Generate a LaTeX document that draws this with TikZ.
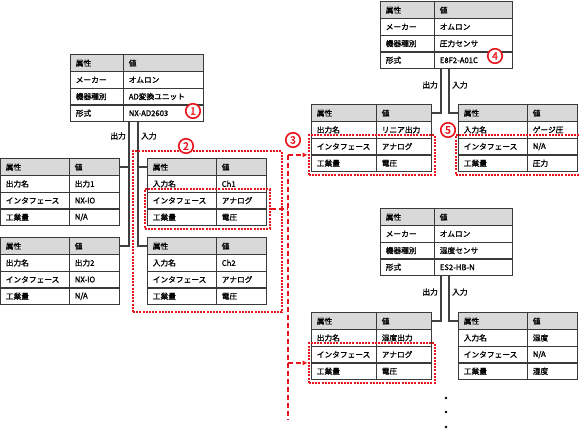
\documentclass[tikz,border=0pt]{standalone}
\usepackage{fontspec}
\setmainfont{Noto Sans CJK JP}
\newfontfamily\jfont{Noto Sans CJK JP}[FakeBold=1.4]
\usetikzlibrary{matrix,fit,calc,arrows.meta}
\definecolor{tline}{HTML}{3A3A3A}
\definecolor{hdr}{HTML}{D9D9D9}
\definecolor{conncol}{HTML}{404040}
\definecolor{rmark}{HTML}{E8141C}
\tikzset{
  tbl/.style 2 args={matrix of nodes, inner sep=0pt, column sep=-1.2pt, row sep=-1.2pt, anchor=north west,
    nodes={draw=tline, line width=1.2pt, minimum height=16.7pt, inner xsep=5pt, inner ysep=0pt,
      align=left, anchor=center, font=\jfont\fontsize{7.7}{9}\selectfont},
    column 1/.style={nodes={text width=#1}},
    column 2/.style={nodes={text width=#2}},
    row 1/.style={nodes={fill=hdr}}},
  conn/.style={draw=conncol, line width=1.7pt},
  lbl/.style={font=\jfont\fontsize{7.7}{9}\selectfont, inner sep=0pt},
  rdot/.style={draw=rmark, line width=2pt, dash pattern=on 2pt off 1.2pt, inner sep=2.5pt},
  rdash/.style={draw=rmark, line width=1.8pt, dash pattern=on 5pt off 3pt},
  rarrow/.style={rdash, -{Latex[length=5pt,width=5pt]}},
  circnum/.style={circle, draw=rmark, fill=white, line width=1.6pt, minimum size=14.5pt, inner sep=0pt,
    text=rmark, font=\jfont\fontsize{10.5}{10.5}\selectfont},
  dotmark/.style={circle, fill=black, minimum size=2.6pt, inner sep=0pt}
}
\begin{document}
\begin{tikzpicture}[x=1pt,y=-1pt]
\useasboundingbox (0,0) rectangle (580,442);
% top-left unit
\matrix (A) [tbl={43pt}{70pt}] at (70,54) {
  属性 & 値 \\ メーカー & オムロン \\ 機器種別 & AD変換ユニット \\ 形式 & NX-AD2603 \\ };
\matrix (O1) [tbl={59pt}{40pt}] at (0,158) {
  属性 & 値 \\ 出力名 & 出力1 \\ インタフェース & NX-IO \\ 工業量 & N/A \\ };
\matrix (O2) [tbl={59pt}{40pt}] at (0,237) {
  属性 & 値 \\ 出力名 & 出力2 \\ インタフェース & NX-IO \\ 工業量 & N/A \\ };
\matrix (I1) [tbl={59pt}{40pt}] at (147,158) {
  属性 & 値 \\ 入力名 & Ch1 \\ インタフェース & アナログ \\ 工業量 & 電圧 \\ };
\matrix (I2) [tbl={59pt}{40pt}] at (147,237) {
  属性 & 値 \\ 入力名 & Ch2 \\ インタフェース & アナログ \\ 工業量 & 電圧 \\ };
% pressure sensor
\matrix (B) [tbl={44pt}{68pt}] at (380,1) {
  属性 & 値 \\ メーカー & オムロン \\ 機器種別 & 圧力センサ \\ 形式 & E8F2-A01C \\ };
\matrix (C) [tbl={55pt}{45pt}] at (311,104) {
  属性 & 値 \\ 出力名 & リニア出力 \\ インタフェース & アナログ \\ 工業量 & 電圧 \\ };
\matrix (D) [tbl={59pt}{40pt}] at (458,104) {
  属性 & 値 \\ 入力名 & ゲージ圧 \\ インタフェース & N/A \\ 工業量 & 圧力 \\ };
% humidity sensor
\matrix (E) [tbl={44pt}{68pt}] at (380,208) {
  属性 & 値 \\ メーカー & オムロン \\ 機器種別 & 湿度センサ \\ 形式 & ES2-HB-N \\ };
\matrix (F) [tbl={55pt}{45pt}] at (311,312) {
  属性 & 値 \\ 出力名 & 湿度出力 \\ インタフェース & アナログ \\ 工業量 & 電圧 \\ };
\matrix (G) [tbl={59pt}{40pt}] at (458,312) {
  属性 & 値 \\ 入力名 & 湿度 \\ インタフェース & N/A \\ 工業量 & 湿度 \\ };
% connectors
\coordinate (ao) at ($(A.south west)+(59,0)$);
\coordinate (ai) at ($(A.south west)+(68,0)$);
\draw[conn] (ao) |- (O1-1-2.east);
\draw[conn] (ao) |- (O2-1-2.east);
\draw[conn] (ai) |- (I1-1-1.west);
\draw[conn] (ai) |- (I2-1-1.west);
\node[lbl, anchor=east] (ao-l) at (126,136) {出力};
\node[lbl, anchor=west] (ai-l) at (141,136) {入力};
\coordinate (bo) at ($(B.south west)+(61,0)$);
\coordinate (bi) at ($(B.south west)+(69,0)$);
\draw[conn] (bo) |- (C-1-2.east);
\draw[conn] (bi) |- (D-1-1.west);
\node[lbl, anchor=east] (bo-l) at (438,85) {出力};
\node[lbl, anchor=west] (bi-l) at (452,85) {入力};
\coordinate (eo) at ($(E.south west)+(61,0)$);
\coordinate (ei) at ($(E.south west)+(69,0)$);
\draw[conn] (eo) |- (F-1-2.east);
\draw[conn] (ei) |- (G-1-1.west);
\node[lbl, anchor=east] (eo-l) at (438,292) {出力};
\node[lbl, anchor=west] (ei-l) at (452,292) {入力};
% red marks
\node[rdot, fit=(I1)(I2), inner xsep=14pt, inner ysep=7pt] (box2) {};
\node[rdot, fit=(I1-3-1)(I1-4-2)] (f1) {};
\node[rdot, fit=(C-3-1)(C-4-2)] (fC) {};
\node[rdot, fit=(D-3-1)(D-4-2)] (fD) {};
\node[rdot, fit=(F-3-1)(F-4-2)] (fF) {};
\coordinate (spx) at (288,0);
\coordinate (spb) at (288,420);
\draw[rdash] (f1.east) -- (f1.east -| spx);
\draw[rdash] (fC.west -| spx) -- (spb);
\draw[rarrow] (fC.west -| spx) -- (fC.west);
\draw[rarrow] (fF.west -| spx) -- (fF.west);
\node[circnum] (c1) at (193,111) {1};
\node[circnum] (c2) at (186,146) {2};
\node[circnum] (c3) at (293,140) {3};
\node[circnum] (c4) at (495,56) {4};
\node[circnum] (c5) at (448,130) {5};
% continuation dots
\node[dotmark] (d1) at (446,398) {};
\node[dotmark] (d2) at (446,412) {};
\node[dotmark] (d3) at (446,427) {};
\end{tikzpicture}
\end{document}
